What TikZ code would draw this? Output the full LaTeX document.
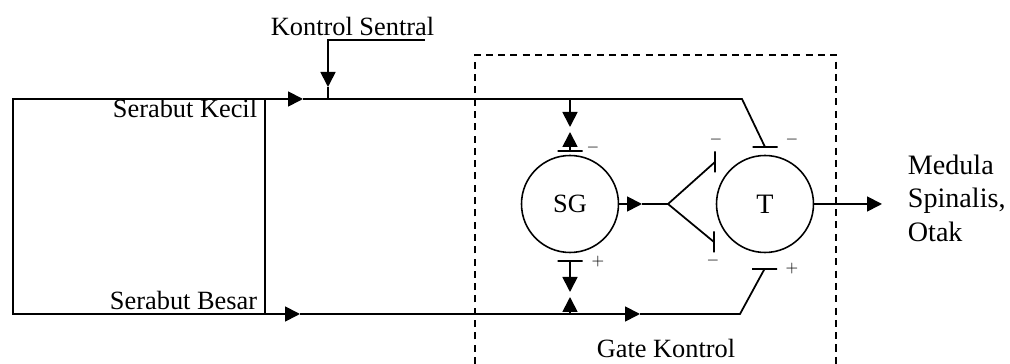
\documentclass[tikz,border=0pt]{standalone}
\usepackage{fontspec}
\setmainfont{Liberation Serif}
\usetikzlibrary{arrows.meta}

\begin{document}
\begin{tikzpicture}[>={Triangle[length=0.3cm,width=0.3cm]},line width=1pt,
      cell/.style={circle,draw,line width=0.9pt,minimum size=1.94cm,inner sep=0pt},
      lbl/.style={inner sep=0pt,font=\fontsize{15}{18}\selectfont},
      sgn/.style={inner sep=0pt,font=\small},
      hstop/.style={draw,minimum width=0.5cm,minimum height=0pt,inner sep=0pt,outer sep=0pt},
      vstop/.style={draw,minimum width=0pt,minimum height=0.42cm,inner sep=0pt,outer sep=0pt},
      gate/.style={line width=0.8pt,dash pattern=on 4pt off 3pt}]

      \useasboundingbox (0,0) rectangle (20.2,7.28);

      \node[cell,font=\fontsize{15}{18}\selectfont] (sg) at (11.40, 3.20) { SG };
      \node[cell,font=\fontsize{16}{18}\selectfont] (t)  at (15.30, 3.20) { T };

      \node[hstop] (sgtop) at (11.40, 4.26) {};
      \node[hstop] (sgbot) at (11.40, 2.06) {};
      \node[hstop] (ttop)  at (15.30, 4.34) {};
      \node[hstop] (tbot)  at (15.29, 1.90) {};
      \node[vstop] (fup)   at (14.30, 4.04) {};
      \node[vstop] (fdown) at (14.28, 2.44) {};

      \node[lbl,anchor=base west] (kontrol) at ( 5.40, 6.56) { Kontrol Sentral };
      \node[lbl,anchor=base east] (kecil)   at ( 5.16, 4.92) { Serabut Kecil };
      \node[lbl,anchor=base east] (besar)   at ( 5.16, 1.08) { Serabut Besar };
      \node[lbl,anchor=base]      (gatek)   at (13.32, 0.12) { Gate Kontrol };
      \node[lbl,anchor=base west,font=\fontsize{16}{18}\selectfont] (med1) at (18.14, 3.78) { Medula };
      \node[lbl,anchor=base west,font=\fontsize{16}{18}\selectfont] (med2) at (18.14, 3.12) { Spinalis, };
      \node[lbl,anchor=base west,font=\fontsize{16}{18}\selectfont] (med3) at (18.14, 2.44) { Otak };

      \node[sgn] (s1) at (11.86, 4.32) { $-$ };
      \node[sgn] (s2) at (11.96, 2.04) { $+$ };
      \node[sgn] (s3) at (14.32, 4.48) { $-$ };
      \node[sgn] (s4) at (15.84, 4.48) { $-$ };
      \node[sgn] (s5) at (14.26, 2.06) { $-$ };
      \node[sgn] (s6) at (15.84, 1.90) { $+$ };

      \coordinate (tl)   at ( 0.26, 5.30);
      \coordinate (ti)   at ( 5.30, 5.30);
      \coordinate (bi)   at ( 5.30, 1.00);
      \coordinate (ta)   at ( 6.06, 5.30);
      \coordinate (ba)   at ( 6.00, 1.00);
      \coordinate (bb)   at (12.80, 1.00);
      \coordinate (k0)   at ( 8.50, 6.48);
      \coordinate (k1)   at ( 6.56, 6.48);
      \coordinate (kmid) at ( 6.56, 5.54);
      \coordinate (kin)  at ( 6.56, 5.30);
      \coordinate (sgin) at (11.40, 5.30);
      \coordinate (sgm1) at (11.40, 4.74);
      \coordinate (sgm2) at (11.40, 4.64);
      \coordinate (sgm3) at (11.40, 1.44);
      \coordinate (sgm4) at (11.40, 1.34);
      \coordinate (sgbo) at (11.40, 1.00);
      \coordinate (tend) at (14.84, 5.30);
      \coordinate (bend) at (14.80, 1.00);
      \coordinate (sgout) at (12.84, 3.20);
      \coordinate (fork) at (13.36, 3.20);
      \coordinate (out)  at (17.64, 3.20);

      \draw[gate] (9.50, 0) -- (9.50, 6.18) -- (16.72, 6.18) -- (16.72, 0);

      \draw (tl) rectangle (bi);
      \draw[->] (ti) -- (ta);
      \draw (ta) -- (tend) -- (ttop.center);
      \draw[->] (bi) -- (ba);
      \draw[->] (ba) -- (bb);
      \draw (bb) -- (bend) -- (tbot.center);

      \draw[->] (k0) -- (k1) -- (kmid);
      \draw (kmid) -- (kin);

      \draw[->] (sgin) -- (sgm1);
      \draw[->] (sgtop.center) -- (sgm2);
      \draw[->] (sgbot.center) -- (sgm3);
      \draw[->] (sgbo) -- (sgm4);

      \draw[->] (sg) -- (sgout);
      \draw (sgout) -- (fork);
      \draw (fork) -- (fup.center);
      \draw (fork) -- (fdown.center);
      \draw[->] (t) -- (out);
    \end{tikzpicture}
\end{document}
